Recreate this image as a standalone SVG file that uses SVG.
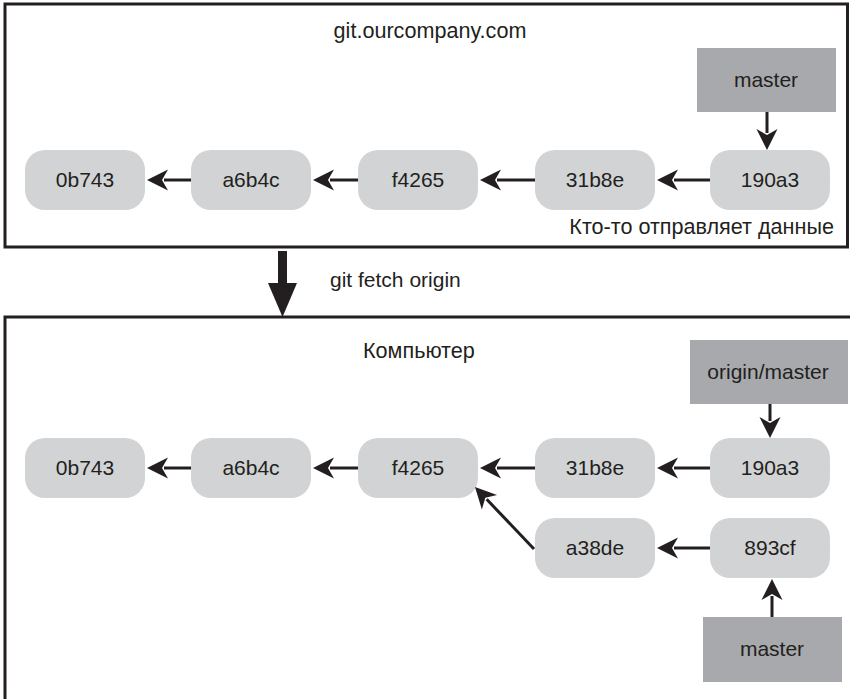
<svg xmlns="http://www.w3.org/2000/svg" width="850" height="699" viewBox="0 0 850 699">
<defs>
<style>
text{font-family:"Liberation Sans",Arial,sans-serif;font-size:21px;fill:#231f20}
.lbl{font-size:21.6px}
.n rect{fill:#d1d3d4}
.b rect{fill:#a7a9ac}
.n text,.b text{text-anchor:middle}
.frame{fill:none;stroke:#231f20;stroke-width:3}
.c path{fill:none;stroke:#231f20;stroke-width:3;marker-end:url(#ah)}
</style>
<marker id="ah" markerUnits="userSpaceOnUse" markerWidth="40" markerHeight="40" refX="0" refY="0" orient="auto" overflow="visible" viewBox="-20 -20 40 40">
<path d="M17,0 L-4,-10.5 L2,0 L-4,10.5 Z" fill="#231f20"/>
</marker>
</defs>
<rect width="850" height="699" fill="#fff"/>

<g id="server-frame">
<rect class="frame" x="5" y="4" width="842.5" height="243"/>
<text class="lbl" x="430" y="38" text-anchor="middle">git.ourcompany.com</text>
<text class="lbl" x="834" y="234" text-anchor="end">Кто-то отправляет данные</text>
</g>

<g id="local-frame">
<path class="frame" d="M5,700 L5,317 L851,317"/>
<text class="lbl" x="363" y="358">Компьютер</text>
</g>

<g id="fetch-arrow">
<rect x="278" y="251" width="9" height="34" fill="#231f20"/>
<path d="M268,283 L297,283 L282.5,317 Z" fill="#231f20"/>
<text x="330" y="287">git fetch origin</text>
</g>

<g id="s-0b743" class="n"><rect x="25" y="150" width="120" height="60" rx="20"/><text x="85" y="187">0b743</text></g>
<g id="s-a6b4c" class="n"><rect x="191" y="150" width="120" height="60" rx="20"/><text x="251" y="187">a6b4c</text></g>
<g id="s-f4265" class="n"><rect x="358" y="150" width="120" height="60" rx="20"/><text x="418" y="187">f4265</text></g>
<g id="s-31b8e" class="n"><rect x="535" y="150" width="120" height="60" rx="20"/><text x="595" y="187">31b8e</text></g>
<g id="s-190a3" class="n"><rect x="710" y="150" width="120" height="60" rx="20"/><text x="770" y="187">190a3</text></g>
<g id="s-master" class="b"><rect x="697" y="48" width="139" height="64"/><text x="766" y="87">master</text></g>

<g id="l-0b743" class="n"><rect x="25" y="438" width="120" height="60" rx="20"/><text x="85" y="475">0b743</text></g>
<g id="l-a6b4c" class="n"><rect x="191" y="438" width="120" height="60" rx="20"/><text x="251" y="475">a6b4c</text></g>
<g id="l-f4265" class="n"><rect x="358" y="438" width="120" height="60" rx="20"/><text x="418" y="475">f4265</text></g>
<g id="l-31b8e" class="n"><rect x="535" y="438" width="120" height="60" rx="20"/><text x="595" y="475">31b8e</text></g>
<g id="l-190a3" class="n"><rect x="710" y="438" width="120" height="60" rx="20"/><text x="770" y="475">190a3</text></g>
<g id="l-a38de" class="n"><rect x="535" y="518" width="120" height="60" rx="20"/><text x="595" y="555">a38de</text></g>
<g id="l-893cf" class="n"><rect x="710" y="518" width="120" height="60" rx="20"/><text x="770" y="555">893cf</text></g>
<g id="l-origin-master" class="b"><rect x="690" y="340" width="158" height="64"/><text x="768" y="379">origin/master</text></g>
<g id="l-master" class="b"><rect x="703" y="617" width="139" height="65"/><text x="772" y="656">master</text></g>

<g id="connectors" class="c">
<path d="M191,180 L164,180"/>
<path d="M358,180 L330,180"/>
<path d="M535,180 L497,180"/>
<path d="M710,180 L674,180"/>
<path d="M767,112 L767,133"/>
<path d="M191,468 L164,468"/>
<path d="M358,468 L330,468"/>
<path d="M535,468 L497,468"/>
<path d="M710,468 L674,468"/>
<path d="M770,404 L770,421"/>
<path d="M710,548 L674,548"/>
<path d="M534,549 L486.7,499.3"/>
<path d="M772,617 L772,596"/>
</g>
</svg>
